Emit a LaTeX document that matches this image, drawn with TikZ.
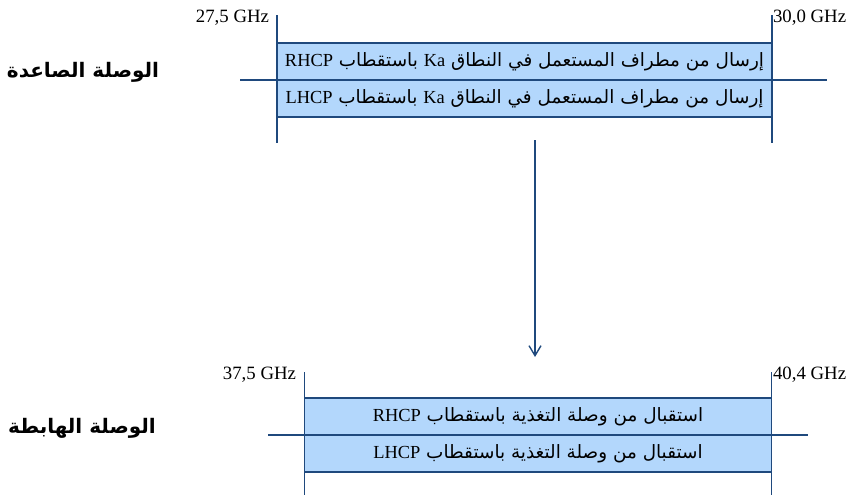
\documentclass[tikz,border=0pt]{standalone}
\usepackage{fontspec}
\setmainfont{Liberation Serif}
\newfontfamily\arabicfont[Script=Arabic]{DejaVu Sans}
\TeXXeTstate=1
\usepackage{tikz}
\usetikzlibrary{arrows.meta}
\usetikzlibrary{positioning}
\definecolor{bandline}{RGB}{31,73,125}
\definecolor{bandfill}{RGB}{179,215,252}
\tikzstyle{every node}+=[inner sep=0pt, outer sep=0pt]
\tikzstyle{band} = [rectangle, draw=bandline, fill=bandfill, line width=0.7pt, font=\arabicfont\fontsize{9.2}{11}\selectfont, text centered, minimum height=18.5pt]
\tikzstyle{rule} = [draw=bandline, line width=0.7pt]
\tikzstyle{line} = [draw=bandline, line width=0.7pt, -{Straight Barb[length=5pt,width=6pt]}]
\tikzstyle{freq} = [font=\fontsize{9.4}{11}\selectfont]
\tikzstyle{link} = [font=\arabicfont\bfseries\fontsize{10}{12}\selectfont]
\newcommand{\ltn}[1]{{\rmfamily #1}}

\begin{document}
\begin{tikzpicture}[x=0.5pt, y=-0.5pt]
  \useasboundingbox (0,0) rectangle (855,495);
  % Place nodes
  \node [band, minimum width=247.5pt] (upr) at (524.5,61.5) {\beginR إرسال من مطراف المستعمل في النطاق \ltn{Ka} باستقطاب \ltn{RHCP}\endR};
  \node [band, minimum width=247.5pt, below=0pt of upr] (upl) {\beginR إرسال من مطراف المستعمل في النطاق \ltn{Ka} باستقطاب \ltn{LHCP}\endR};
  \node [band, minimum width=233.5pt] (dnr) at (538,416.5) {\beginR استقبال من وصلة التغذية باستقطاب \ltn{RHCP}\endR};
  \node [band, minimum width=233.5pt, below=0pt of dnr] (dnl) {\beginR استقبال من وصلة التغذية باستقطاب \ltn{LHCP}\endR};
  \node [freq, anchor=east] (f1) at (269,18) {27,5 GHz};
  \node [freq, anchor=west] (f2) at (773,18) {30,0 GHz};
  \node [freq, anchor=east] (f3) at (296,375) {37,5 GHz};
  \node [freq, anchor=west] (f4) at (773,375) {40,4 GHz};
  \node [link] (up) at (83,72) {\beginR الوصلة الصاعدة\endR};
  \node [link] (dn) at (82,428) {\beginR الوصلة الهابطة\endR};
  \coordinate (a0) at (535,140);
  \coordinate (a1) at (535,357);
  % Draw band edges
  \path [rule] (277,15) -- (277,143);
  \path [rule] (772,15) -- (772,143);
  \path [rule] (240,80) -- (827,80);
  \path [rule] (304.5,372) -- (304.5,495);
  \path [rule] (771.5,372) -- (771.5,495);
  \path [rule] (268,435) -- (808,435);
  % Draw edges
  \path [line] (a0) -- (a1);
\end{tikzpicture}
\end{document}
